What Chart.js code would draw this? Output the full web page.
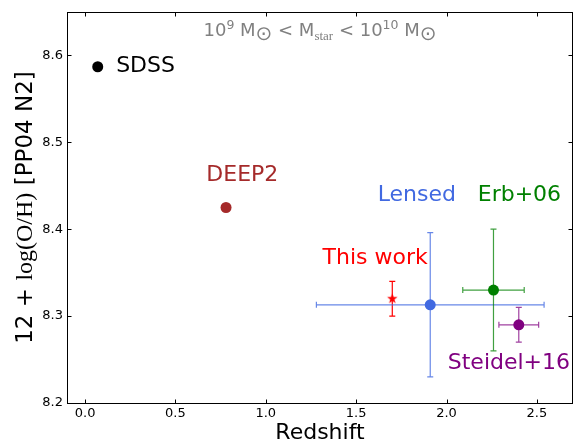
<!DOCTYPE html>
<html>
<head>
<meta charset="utf-8">
<script src="https://cdn.jsdelivr.net/npm/chart.js@4"></script>
<style>
  html, body { margin: 0; padding: 0; background: #fff; }
  canvas { display: block; }
</style>
</head>
<body>
<canvas id="chart" width="573" height="446"></canvas>
<script>
const sources = ['SDSS', 'DEEP2', 'This work', 'Lensed', 'Erb+06', 'Steidel+16'];
const redshift = [0.07, 0.78, 1.70, 1.91, 2.26, 2.40];
const metallicity = [8.587, 8.425, 8.32, 8.313, 8.33, 8.29];
const redshiftErr = [0, 0, 0, 0.63, 0.17, 0.11];
const metallicityErr = [0, 0, 0.02, 0.083, 0.07, 0.02];
const xTicks = [0, 0.5, 1.0, 1.5, 2.0, 2.5];
const yTicks = [8.2, 8.3, 8.4, 8.5, 8.6];

const colors = ['#000000', '#a52a2a', '#ff0000', '#4169e1', '#008000', '#800080'];
const errColors = ['#000000', '#a52a2a', '#ff0000', 'rgba(65,105,225,0.8)', 'rgba(0,128,0,0.75)', 'rgba(128,0,128,0.75)'];
// where each source name is written (data coords, left / baseline)
const labelPos = [
  [0.172, 8.581], [0.671, 8.4555], [1.314, 8.360],
  [1.619, 8.433], [2.173, 8.4325], [2.007, 8.2397]
];

Chart.defaults.font.family = 'DejaVu Sans';
Chart.defaults.color = '#000';

function starMarker(color, r) {
  const c = document.createElement('canvas');
  const s = Math.ceil(r * 2 + 2);
  c.width = c.height = s;
  const g = c.getContext('2d');
  g.beginPath();
  for (let i = 0; i < 10; i++) {
    const rad = i % 2 ? r * 0.4 : r;
    const a = -Math.PI / 2 + i * Math.PI / 5;
    g.lineTo(s / 2 + rad * Math.cos(a), s / 2 + rad * Math.sin(a));
  }
  g.closePath();
  g.fillStyle = color;
  g.fill();
  return c;
}

function drawRuns(ctx, runs, x, y) {
  let total = 0;
  runs.forEach(r => { ctx.font = r.font; total += ctx.measureText(r.text).width; });
  let cx = x - total / 2;
  runs.forEach(r => {
    ctx.font = r.font;
    ctx.fillText(r.text, cx, y + (r.dy || 0));
    cx += ctx.measureText(r.text).width;
  });
}

const decorations = {
  id: 'decorations',
  beforeDatasetsDraw(chart) {
    const ctx = chart.ctx;
    const xs = chart.scales.x, ys = chart.scales.y;
    const cap = 3;
    ctx.save();
    ctx.lineWidth = 1.2;
    sources.forEach((s, i) => {
      const px = xs.getPixelForValue(redshift[i]);
      const py = ys.getPixelForValue(metallicity[i]);
      ctx.strokeStyle = errColors[i];
      ctx.beginPath();
      if (redshiftErr[i] > 0) {
        const x0 = xs.getPixelForValue(redshift[i] - redshiftErr[i]);
        const x1 = xs.getPixelForValue(redshift[i] + redshiftErr[i]);
        ctx.moveTo(x0, py); ctx.lineTo(x1, py);
        ctx.moveTo(x0, py - cap); ctx.lineTo(x0, py + cap);
        ctx.moveTo(x1, py - cap); ctx.lineTo(x1, py + cap);
      }
      if (metallicityErr[i] > 0) {
        const y0 = ys.getPixelForValue(metallicity[i] - metallicityErr[i]);
        const y1 = ys.getPixelForValue(metallicity[i] + metallicityErr[i]);
        ctx.moveTo(px, y0); ctx.lineTo(px, y1);
        ctx.moveTo(px - cap, y0); ctx.lineTo(px + cap, y0);
        ctx.moveTo(px - cap, y1); ctx.lineTo(px + cap, y1);
      }
      ctx.stroke();
    });
    ctx.restore();
  },
  afterDraw(chart) {
    const ctx = chart.ctx;
    const a = chart.chartArea;
    const xs = chart.scales.x, ys = chart.scales.y;
    ctx.save();
    // frame and inward ticks
    ctx.strokeStyle = '#000';
    ctx.lineWidth = 1;
    const L = Math.round(a.left) + 0.5, R = Math.round(a.right) - 0.5;
    const T = Math.round(a.top) + 0.5, B = Math.round(a.bottom) + 0.5;
    ctx.strokeRect(L, T, R - L, B - T);
    ctx.beginPath();
    xTicks.forEach(v => {
      const px = Math.round(xs.getPixelForValue(v)) + 0.5;
      ctx.moveTo(px, B); ctx.lineTo(px, B - 4);
      ctx.moveTo(px, T); ctx.lineTo(px, T + 4);
    });
    yTicks.forEach(v => {
      const py = Math.round(ys.getPixelForValue(v)) + 0.5;
      ctx.moveTo(L, py); ctx.lineTo(L + 4, py);
      ctx.moveTo(R, py); ctx.lineTo(R - 4, py);
    });
    ctx.stroke();

    // source names
    ctx.textBaseline = 'alphabetic';
    ctx.textAlign = 'left';
    ctx.font = '22px "DejaVu Sans"';
    sources.forEach((s, i) => {
      ctx.fillStyle = colors[i];
      ctx.fillText(s, xs.getPixelForValue(labelPos[i][0]), ys.getPixelForValue(labelPos[i][1]));
    });

    // mass range note
    ctx.fillStyle = '#808080';
    const big = '18px "DejaVu Sans"', sup = '12.5px "DejaVu Sans"';
    const sun = '20px "DejaVu Sans"';
    drawRuns(ctx, [
      { text: '10', font: big },
      { text: '9', font: sup, dy: -7 },
      { text: ' M', font: big },
      { text: '\u2299', font: sun, dy: 4 },
      { text: ' < M', font: big },
      { text: 'star', font: '13px "Liberation Serif"', dy: 4 },
      { text: ' < 10', font: big },
      { text: '10', font: sup, dy: -7 },
      { text: ' M', font: big },
      { text: '\u2299', font: sun, dy: 4 }
    ], (a.left + a.right) / 2, 36);

    // y axis title
    ctx.fillStyle = '#000';
    ctx.translate(32, (a.top + a.bottom) / 2);
    ctx.rotate(-Math.PI / 2);
    drawRuns(ctx, [
      { text: '12 + ', font: '23px "DejaVu Sans"' },
      { text: 'log(O/H)', font: '24px "Liberation Serif"' },
      { text: ' [PP04 N2]', font: '23px "DejaVu Sans"' }
    ], 0, 0);
    ctx.restore();
  }
};

const datasets = sources.map((s, i) => ({
  label: s,
  data: [{ x: redshift[i], y: metallicity[i] }],
  backgroundColor: colors[i],
  borderWidth: 0,
  pointRadius: 5.5,
  pointStyle: s === 'This work' ? starMarker(colors[i], 5.5) : 'circle'
}));

new Chart(document.getElementById('chart'), {
  type: 'scatter',
  data: { datasets },
  options: {
    responsive: false,
    animation: false,
    devicePixelRatio: 1,
    layout: { autoPadding: false, padding: { top: 12, right: 0, left: 0, bottom: 0 } },
    plugins: { legend: { display: false }, tooltip: { enabled: false } },
    scales: {
      x: {
        min: -0.1, max: 2.7,
        grid: { display: false, drawTicks: false },
        border: { display: false },
        afterBuildTicks: s => { s.ticks = xTicks.map(v => ({ value: v })); },
        afterFit: s => { s.height = 43; s.paddingLeft = 0; s.paddingRight = 0; },
        ticks: { font: { size: 13 }, padding: 3, callback: v => v.toFixed(1) },
        title: { display: true, text: 'Redshift', font: { size: 22 }, padding: { top: 0, bottom: 0 } }
      },
      y: {
        min: 8.2, max: 8.65,
        grid: { display: false, drawTicks: false },
        border: { display: false },
        afterBuildTicks: s => { s.ticks = yTicks.map(v => ({ value: v })); },
        afterFit: s => { s.width = 67; s.paddingTop = 0; s.paddingBottom = 0; },
        ticks: { font: { size: 13 }, padding: 4, callback: v => v.toFixed(1) }
      }
    }
  },
  plugins: [decorations]
});
</script>
</body>
</html>
